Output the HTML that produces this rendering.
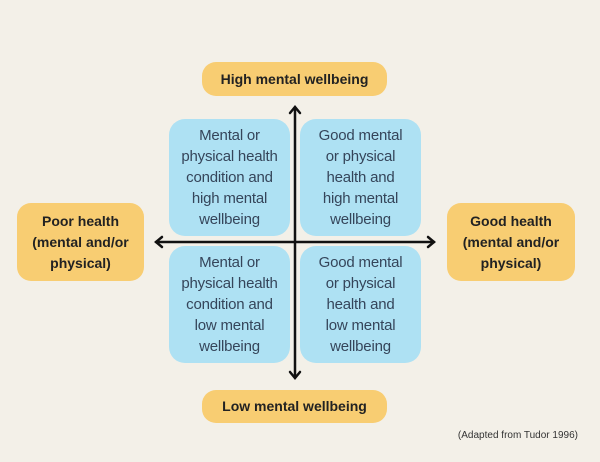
<!DOCTYPE html>
<html><head><style>
body{margin:0;width:600px;height:462px;background:#f3f0e8;position:relative;overflow:hidden;font-family:"Liberation Sans",sans-serif}
.o{position:absolute;background:#f8cd72;border-radius:14px;display:flex;align-items:center;justify-content:center;text-align:center;font-weight:bold;color:#222;font-size:14px;line-height:21px}
.b{position:absolute;background:#aee1f3;border-radius:16px;display:flex;align-items:center;justify-content:center;text-align:center;color:#35455a;font-size:15px;line-height:21px;width:121px;height:117px;letter-spacing:-0.2px}
.c{position:absolute;right:22px;top:430px;font-size:10px;color:#333}
</style></head><body>
<div class="o" style="left:202px;top:62px;width:185px;height:34px">High mental wellbeing</div>
<div class="o" style="left:202px;top:390px;width:185px;height:33px">Low mental wellbeing</div>
<div class="o" style="left:17px;top:203px;width:127px;height:78px">Poor health<br>(mental and/or<br>physical)</div>
<div class="o" style="left:447px;top:203px;width:128px;height:78px">Good health<br>(mental and/or<br>physical)</div>
<div class="b" style="left:169px;top:119px">Mental or<br>physical health<br>condition and<br>high mental<br>wellbeing</div>
<div class="b" style="left:300px;top:119px">Good mental<br>or physical<br>health and<br>high mental<br>wellbeing</div>
<div class="b" style="left:169px;top:246px">Mental or<br>physical health<br>condition and<br>low mental<br>wellbeing</div>
<div class="b" style="left:300px;top:246px">Good mental<br>or physical<br>health and<br>low mental<br>wellbeing</div>
<svg width="600" height="462" style="position:absolute;left:0;top:0">
<g stroke="#111" stroke-width="2.5" fill="none" stroke-linecap="round">
<line x1="295" y1="108" x2="295" y2="377"/>
<line x1="156" y1="242" x2="434" y2="242"/>
<polyline points="290,113 295,107 300,113"/>
<polyline points="290,372 295,378 300,372"/>
<polyline points="162,237 156,242 162,247"/>
<polyline points="428,237 434,242 428,247"/>
</g></svg>
<div class="c">(Adapted from Tudor 1996)</div>
</body></html>
